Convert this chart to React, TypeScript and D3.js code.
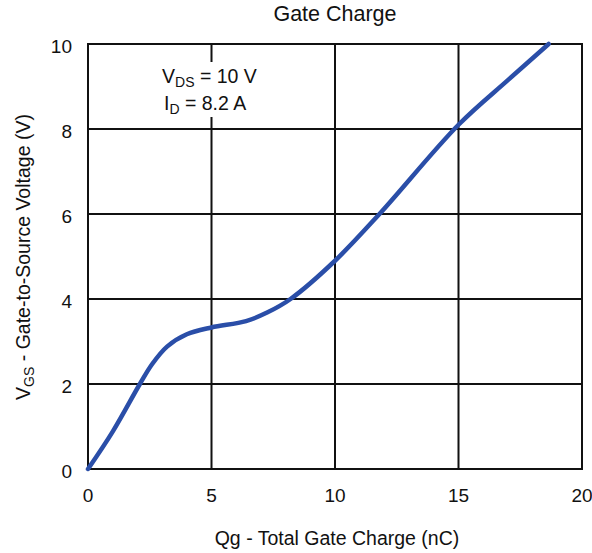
import React from "react";
import * as d3 from "d3";

const xTicks = [0, 5, 10, 15, 20];
const yTicks = [0, 2, 4, 6, 8, 10];
const qg = [0, 1, 2.1, 2.6, 3.2, 4, 5, 6.4, 7.25, 8.2, 10, 11.8, 15, 17, 18.65];
const vgs = [0, 0.88, 2, 2.47, 2.88, 3.17, 3.33, 3.48, 3.68, 4, 4.9, 6, 8.1, 9.15, 10];

export default function App() {
  const W = 592, H = 553;
  const left = 88, right = 582, top = 44, bottom = 469;
  const x = d3.scaleLinear().domain([0, 20]).range([left, right]);
  const y = d3.scaleLinear().domain([0, 10]).range([bottom, top]);
  const pts: [number, number][] = qg.map((q, i) => [q, vgs[i]]);
  const line = d3
    .line<[number, number]>()
    .x((d) => x(d[0]))
    .y((d) => y(d[1]))
    .curve(d3.curveCatmullRom.alpha(0.5));
  const font = "'Liberation Sans', Arial, sans-serif";
  const ink = "#111";
  return (
    <svg
      width={W}
      height={H}
      style={{ position: "absolute", left: 0, top: 0, background: "#fff" }}
      fontFamily={font}
    >
      <rect x={0} y={0} width={W} height={H} fill="#fff" />
      <text x={335} y={21} textAnchor="middle" fontSize={21.5} fill={ink}>
        Gate Charge
      </text>
      {xTicks.map((t) => (
        <line key={"gx" + t} x1={x(t)} x2={x(t)} y1={top} y2={bottom} stroke={ink} strokeWidth={2} />
      ))}
      {yTicks.map((t) => (
        <line key={"gy" + t} x1={left} x2={right} y1={y(t)} y2={y(t)} stroke={ink} strokeWidth={2} />
      ))}
      <rect x={left} y={top} width={right - left} height={bottom - top} fill="none" stroke={ink} strokeWidth={2} />
      <rect x={158} y={62} width={106} height={55} fill="#fff" />
      <text x={162} y={83} fontSize={19.5} fill={ink}>
        V<tspan fontSize={14} dy={4}>DS</tspan>
        <tspan dy={-4}> = 10 V</tspan>
      </text>
      <text x={164} y={110} fontSize={19.5} fill={ink}>
        I<tspan fontSize={14} dy={4}>D</tspan>
        <tspan dy={-4}> = 8.2 A</tspan>
      </text>
      <path d={line(pts) || ""} fill="none" stroke="#2a4ea8" strokeWidth={4.5} strokeLinecap="round" />
      {xTicks.map((t) => (
        <text key={"tx" + t} x={x(t)} y={502} textAnchor="middle" fontSize={19} fill={ink}>
          {t}
        </text>
      ))}
      {yTicks.map((t) => (
        <text key={"ty" + t} x={72} y={y(t) + 9} textAnchor="end" fontSize={19} fill={ink}>
          {t}
        </text>
      ))}
      <text x={337} y={545} textAnchor="middle" fontSize={19.5} fill={ink}>
        Qg - Total Gate Charge (nC)
      </text>
      <text transform={`translate(30, 257) rotate(-90)`} textAnchor="middle" fontSize={19.5} fill={ink}>
        V<tspan fontSize={14} dy={4}>GS</tspan>
        <tspan dy={-4}> - Gate-to-Source Voltage (V)</tspan>
      </text>
    </svg>
  );
}
